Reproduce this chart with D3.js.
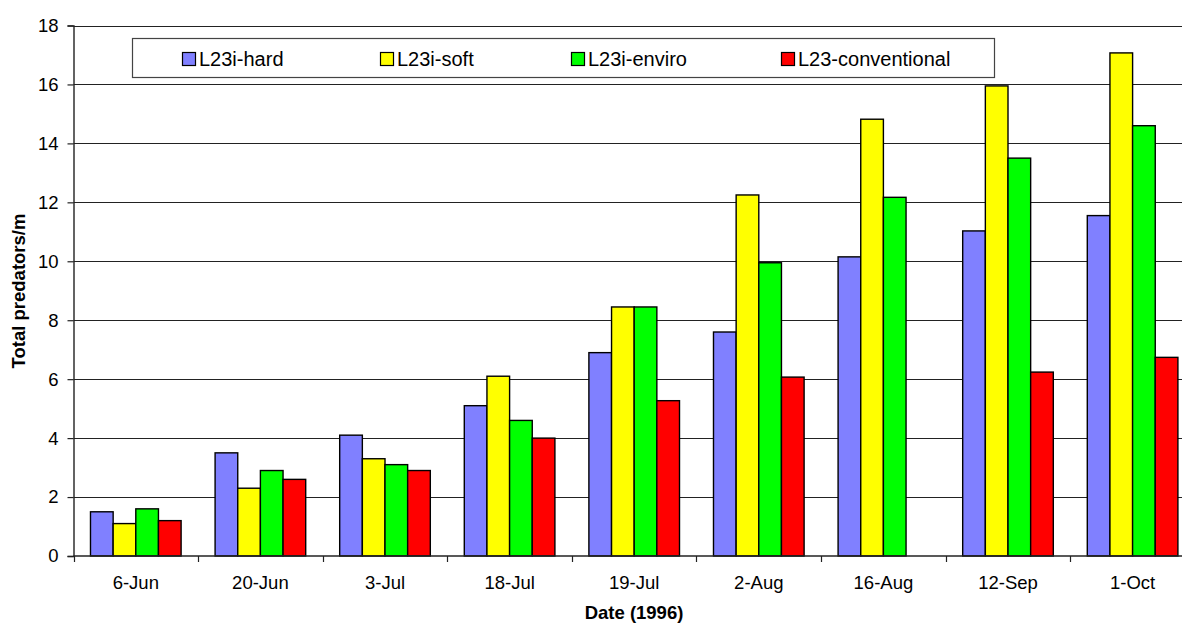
<!DOCTYPE html>
<html>
<head>
<meta charset="utf-8">
<script src="https://cdn.jsdelivr.net/npm/d3@7"></script>
<style>
  html, body { margin: 0; padding: 0; background: #fff; overflow: hidden; }
  svg { display: block; font-family: "Liberation Sans", Arial, sans-serif; }
</style>
</head>
<body>
<svg id="chart" width="1182" height="623"></svg>
<script>
// Sampling dates and series
const categories = ["6-Jun", "20-Jun", "3-Jul", "18-Jul", "19-Jul", "2-Aug", "16-Aug", "12-Sep", "1-Oct"];
const seriesNames = ["L23i-hard", "L23i-soft", "L23i-enviro", "L23-conventional"];
const seriesColors = ["#8080FF", "#FFFF00", "#00FF00", "#FF0000"];

// Total predators per metre, one array per treatment
const hard = [1.5, 3.5, 4.1, 5.1, 6.9, 7.6, 10.15, 11.03, 11.55];
const soft = [1.1, 2.3, 3.3, 6.1, 8.45, 12.25, 14.82, 15.95, 17.07];
const enviro = [1.6, 2.9, 3.1, 4.6, 8.45, 9.95, 12.17, 13.5, 14.6];
const conventional = [1.2, 2.6, 2.9, 4.0, 5.27, 6.07, null, 6.24, 6.74];

const yTicks = [0, 2, 4, 6, 8, 10, 12, 14, 16, 18];

const seriesValues = [hard, soft, enviro, conventional];

const svg = d3.select("#chart");

// Plot frame (the category axis runs past the right edge of the page)
const plotLeft = 73.5, catStep = 124.6;
const plotBottom = 556, plotTop = 25.5;

const x0 = d3.scaleBand()
  .domain(categories)
  .range([plotLeft, plotLeft + catStep * categories.length])
  .padding(0);

const x1 = d3.scaleBand()
  .domain(seriesNames)
  .range([0, x0.bandwidth()])
  .paddingInner(0)
  .paddingOuter(0.75);

const y = d3.scaleLinear().domain([0, 18]).range([plotBottom, plotTop]);

// Horizontal gridlines
svg.append("g")
  .selectAll("line")
  .data(yTicks.filter(d => d > 0))
  .join("line")
  .attr("x1", plotLeft)
  .attr("x2", x0.range()[1])
  .attr("y1", d => Math.round(y(d)) + 0.5)
  .attr("y2", d => Math.round(y(d)) + 0.5)
  .attr("stroke", "#222")
  .attr("stroke-width", 1);

// Bars
const rows = [];
categories.forEach((c, i) => {
  seriesNames.forEach((s, j) => {
    const v = seriesValues[j][i];
    if (v !== null) rows.push({ cat: c, series: s, value: v, color: seriesColors[j] });
  });
});

svg.append("g")
  .selectAll("rect")
  .data(rows)
  .join("rect")
  .attr("x", d => x0(d.cat) + x1(d.series))
  .attr("y", d => y(d.value))
  .attr("width", x1.bandwidth())
  .attr("height", d => plotBottom - y(d.value))
  .attr("fill", d => d.color)
  .attr("stroke", "#000")
  .attr("stroke-width", 1.4);

// Y axis
const yAxis = svg.append("g")
  .attr("transform", `translate(${plotLeft},0)`)
  .call(d3.axisLeft(y).tickValues(yTicks).tickSize(6).tickPadding(9).tickFormat(d3.format("d")));
yAxis.select(".domain").attr("stroke", "#222").attr("stroke-width", 1.4);
yAxis.selectAll(".tick line").attr("stroke", "#222").attr("stroke-width", 1.2);
yAxis.selectAll("text")
  .attr("font-size", "18.5px")
  .attr("font-family", "Liberation Sans, Arial, sans-serif")
  .attr("fill", "#000");

// X axis: labels centred on each category
const xAxis = svg.append("g")
  .attr("transform", `translate(0,${plotBottom})`)
  .call(d3.axisBottom(x0).tickSize(0));
xAxis.select(".domain").remove();
xAxis.selectAll("text")
  .attr("dy", null)
  .attr("y", 33)
  .attr("font-size", "18.5px")
  .attr("font-family", "Liberation Sans, Arial, sans-serif")
  .attr("fill", "#000");

// X axis line and tick marks between categories
svg.append("line")
  .attr("x1", plotLeft).attr("x2", x0.range()[1])
  .attr("y1", plotBottom).attr("y2", plotBottom)
  .attr("stroke", "#222").attr("stroke-width", 1.4);

svg.append("g")
  .selectAll("line")
  .data(categories)
  .join("line")
  .attr("x1", d => Math.round(x0(d)) + 0.5)
  .attr("x2", d => Math.round(x0(d)) + 0.5)
  .attr("y1", plotBottom)
  .attr("y2", plotBottom + 6)
  .attr("stroke", "#222")
  .attr("stroke-width", 1.2);

// Axis titles
svg.append("text")
  .attr("transform", "translate(25,291) rotate(-90)")
  .attr("text-anchor", "middle")
  .attr("font-size", "18.5px")
  .attr("font-weight", "bold")
  .text("Total predators/m");

svg.append("text")
  .attr("x", 634)
  .attr("y", 619)
  .attr("text-anchor", "middle")
  .attr("font-size", "18.5px")
  .attr("font-weight", "bold")
  .text("Date (1996)");

// Legend
const legend = svg.append("g");
legend.append("rect")
  .attr("x", 132.5).attr("y", 38.5)
  .attr("width", 862).attr("height", 39)
  .attr("fill", "#fff")
  .attr("stroke", "#444")
  .attr("stroke-width", 1.2);

const legendX = [182, 380, 571, 781];
const items = legend.selectAll("g.item")
  .data(seriesNames)
  .join("g")
  .attr("class", "item")
  .attr("transform", (d, i) => `translate(${legendX[i]},0)`);

items.append("rect")
  .attr("x", 0.5).attr("y", 52.5)
  .attr("width", 13).attr("height", 13)
  .attr("fill", (d, i) => seriesColors[i])
  .attr("stroke", "#000")
  .attr("stroke-width", 1.2);

items.append("text")
  .attr("x", 17)
  .attr("y", 66)
  .attr("font-size", "20px")
  .attr("fill", "#000")
  .text(d => d);
</script>
</body>
</html>
